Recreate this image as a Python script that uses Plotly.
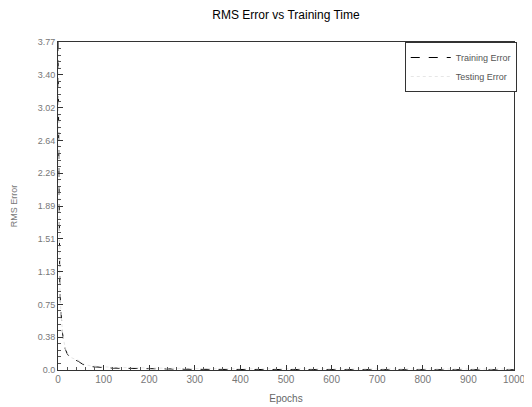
import plotly.graph_objects as go

epochs = [0, 1, 2, 3, 4, 6, 8, 10, 13, 16, 20, 25, 30, 35, 40, 45, 50, 55, 60, 70, 80, 90, 100, 120, 140, 160, 180, 200, 230, 260, 300, 400, 500, 600, 700, 800, 900, 1000]
train_err = [3.77, 2.60, 1.80, 1.25, 0.95, 0.70, 0.52, 0.42, 0.32, 0.24, 0.19, 0.15, 0.13, 0.12, 0.11, 0.10, 0.08, 0.06, 0.05, 0.04, 0.035, 0.03, 0.025, 0.022, 0.02, 0.018, 0.016, 0.014, 0.012, 0.010, 0.008, 0.006, 0.005, 0.004, 0.004, 0.003, 0.003, 0.003]
test_err = [3.70, 2.55, 1.78, 1.24, 0.94, 0.70, 0.53, 0.43, 0.33, 0.25, 0.20, 0.16, 0.14, 0.13, 0.12, 0.11, 0.09, 0.07, 0.06, 0.05, 0.045, 0.04, 0.035, 0.03, 0.028, 0.026, 0.024, 0.022, 0.02, 0.018, 0.016, 0.014, 0.013, 0.012, 0.012, 0.011, 0.011, 0.011]

y_ticks = [0.0, 0.377, 0.754, 1.131, 1.508, 1.885, 2.262, 2.639, 3.016, 3.393, 3.77]
y_tick_labels = ["0.0", "0.38", "0.75", "1.13", "1.51", "1.89", "2.26", "2.64", "3.02", "3.40", "3.77"]
x_ticks = [0, 100, 200, 300, 400, 500, 600, 700, 800, 900, 1000]

fig = go.Figure()
fig.add_trace(go.Scatter(x=epochs, y=train_err, mode="lines", name="Training Error",
                         line=dict(color="black", width=1, dash="dash")))
fig.add_trace(go.Scatter(x=epochs, y=test_err, mode="lines", name="Testing Error",
                         line=dict(color="#e6e6e6", width=1, dash="dot")))

font_fam = "Liberation Sans, Arial, sans-serif"
fig.update_layout(
    width=524, height=399,
    margin=dict(l=50, r=18, t=34, b=37, autoexpand=False),
    paper_bgcolor="white", plot_bgcolor="white",
    title=dict(text="RMS Error vs Training Time", x=0.5, xref="paper", xanchor="center",
               y=0.983, yref="container", yanchor="middle",
               font=dict(family=font_fam, size=12, color="black")),
    font=dict(family=font_fam, size=10, color="#666666"),
    showlegend=True,
    legend=dict(x=1.006, y=1, xanchor="right", yanchor="top", bgcolor="white",
                bordercolor="#333333", borderwidth=1, font=dict(size=9, color="#555555"),
                itemwidth=40, tracegroupgap=0),
    xaxis=dict(range=[0, 1000], tickvals=x_ticks, ticks="inside", ticklen=5, tickcolor="#333333",
               showgrid=False, zeroline=False, showline=True, linecolor="#333333", linewidth=1,
               mirror=True, automargin=False,
               minor=dict(ticks="inside", ticklen=3, dtick=20, tickcolor="#555555"),
               title=dict(text="Epochs", font=dict(size=10, color="#666666"), standoff=10),
               tickfont=dict(size=10, color="#777777")),
    yaxis=dict(range=[0, 3.77], tickvals=y_ticks, ticktext=y_tick_labels, ticks="inside", ticklen=5,
               tickcolor="#333333", showgrid=False, zeroline=False, showline=True, linecolor="#333333",
               linewidth=1, mirror=True, automargin=False,
               minor=dict(ticks="inside", ticklen=3, tickvals=[i * 0.0754 for i in range(51)], tickcolor="#555555"),
               title=dict(text="RMS Error", font=dict(size=9, color="#777777"), standoff=18),
               tickfont=dict(size=9, color="#777777")),
)
fig.write_html("out.html")
